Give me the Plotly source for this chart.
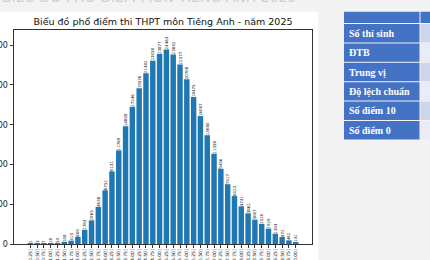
import plotly.graph_objects as go

# ---- data ----
bin_edges = [i * 0.25 for i in range(41)]
bin_labels = [f"({bin_edges[i]:.2f}, {bin_edges[i+1]:.2f}]" for i in range(40)]
counts = [2, 3, 7, 18, 53, 208, 415, 889, 1783, 2965, 4658, 6752, 9131, 11769,
          14808, 17246, 19576, 21482, 23058, 23877, 24463, 23842, 22577, 20708,
          18475, 16087, 13680, 11358, 9456, 7517, 6023, 4741, 3862, 3067, 2520,
          1929, 1304, 872, 462, 141]
y_ticks = [0, 5000, 10000, 15000, 20000, 25000]
table_rows = ["Số thí sinh", "ĐTB", "Trung vị", "Độ lệch chuẩn", "Số điểm 10", "Số điểm 0"]
title_text = "Biểu đồ phổ điểm thi THPT môn Tiếng Anh - năm 2025"
page_title = "BIỂU ĐỒ PHỔ ĐIỂM MÔN TIẾNG ANH 2025"

W, H = 430, 260
PL, PR, PT, PB = 14, 312, 30, 244  # plot box in pixels

fig = go.Figure()

fig.add_trace(go.Bar(
    x=bin_labels, y=counts,
    marker=dict(color="#1f77b4", line=dict(width=0)),
    text=[str(c) for c in counts],
    textposition="outside",
    textangle=-90,
    constraintext="none",
    cliponaxis=False,
    textfont=dict(family="DejaVu Sans", size=4, color="#222"),
    showlegend=False,
))

# ---- side table (drawn as shapes + text) ----
def px(x):
    return x / W

def py(y):
    return 1 - y / H

shapes = [dict(type="rect", xref="paper", yref="paper", layer="below",
               x0=0, x1=px(318), y0=0, y1=py(12),
               fillcolor="white", line=dict(width=0))]
annotations = [dict(text=page_title, xref="paper", yref="paper",
                    x=0, y=py(-4), xanchor="left", yanchor="middle",
                    showarrow=False,
                    font=dict(family="DejaVu Sans", size=14, color="#cfcfcf"))]

TX0, TX1, TX2 = 344, 419.5, 440
HEAD0, HEAD1 = 11.7, 23
ROW_H = 19.4
blue = "#4472C4"
light = ["#CFD5EA", "#E9EBF5"]
# header
shapes.append(dict(type="rect", xref="paper", yref="paper", x0=px(TX0), x1=px(TX1),
                   y0=py(HEAD1), y1=py(HEAD0), fillcolor=blue, line=dict(width=0)))
shapes.append(dict(type="rect", xref="paper", yref="paper", x0=px(TX1 + 1), x1=px(TX2),
                   y0=py(HEAD1), y1=py(HEAD0), fillcolor=blue, line=dict(width=0)))
for i, label in enumerate(table_rows):
    top = HEAD1 + 1 + i * ROW_H
    bot = top + ROW_H - 1
    shapes.append(dict(type="rect", xref="paper", yref="paper", x0=px(TX0), x1=px(TX1),
                       y0=py(bot), y1=py(top), fillcolor=blue, line=dict(width=0)))
    shapes.append(dict(type="rect", xref="paper", yref="paper", x0=px(TX1 + 1), x1=px(TX2),
                       y0=py(bot), y1=py(top), fillcolor=light[i % 2], line=dict(width=0)))
    annotations.append(dict(text=f"<b>{label}</b>", xref="paper", yref="paper",
                            x=px(TX0 + 2.5), y=py((top + bot) / 2), xanchor="left",
                            yanchor="middle", showarrow=False,
                            font=dict(family="Liberation Serif", size=10, color="white")))

ymax = max(counts) * 1.1
n = len(counts)
fig.update_layout(
    template="none",
    width=W, height=H,
    margin=dict(l=0, r=0, t=0, b=0, pad=0),
    paper_bgcolor="#f3f3f3",
    plot_bgcolor="white",
    bargap=0.2,
    title=dict(text=title_text, x=(PL + PR) / 2 / W, xref="container", xanchor="center",
               y=1 - 22 / H, yref="container", yanchor="middle",
               font=dict(family="DejaVu Sans", size=9.5, color="#111")),
    xaxis=dict(domain=[PL / W, PR / W],
               range=[-0.4 - 0.05 * (n - 0.2), n - 0.6 + 0.05 * (n - 0.2)],
               automargin=False, showgrid=False, showline=True, mirror=True,
               linecolor="#333", linewidth=1, ticks="outside", ticklen=2.5,
               tickcolor="#333", tickangle=-90,
               tickfont=dict(family="DejaVu Sans", size=4.5, color="#222")),
    yaxis=dict(domain=[1 - PB / H, 1 - PT / H],
               range=[0, ymax], tickvals=y_ticks, tickformat="d", automargin=False,
               showgrid=False, showline=True, mirror=True, zeroline=False,
               linecolor="#333", linewidth=1, ticks="outside", ticklen=3.5,
               tickcolor="#333",
               tickfont=dict(family="DejaVu Sans", size=8, color="#222")),
    shapes=shapes,
    annotations=annotations,
)

fig.write_html("out.html")
